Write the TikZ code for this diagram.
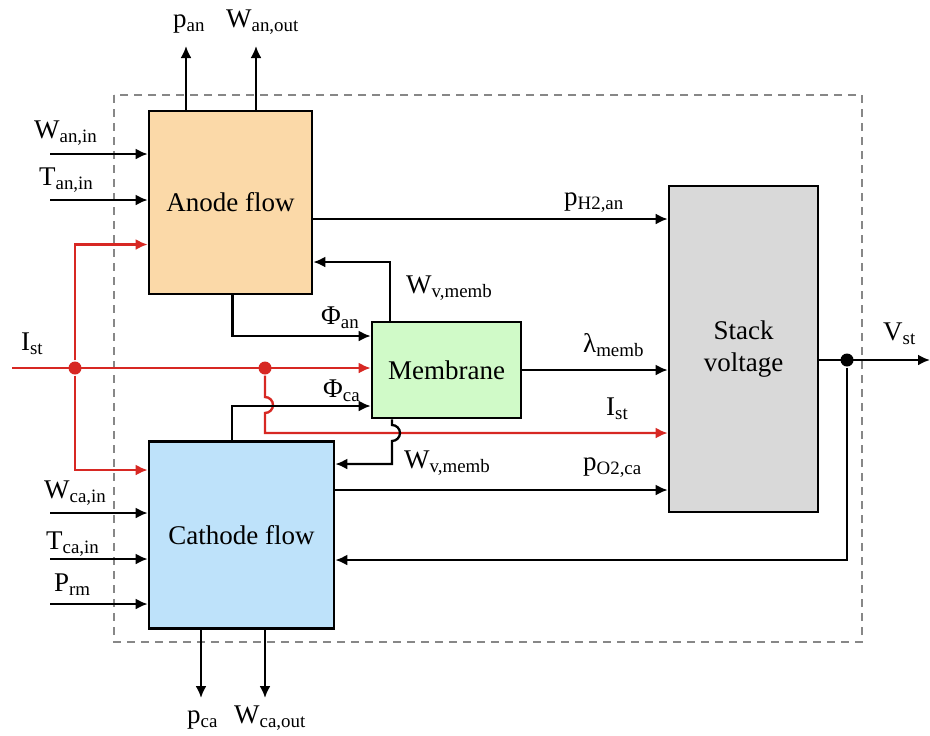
\documentclass[tikz,border=0pt]{standalone}
\usepackage{fontspec}
\setmainfont{Liberation Serif}
\usetikzlibrary{arrows.meta,calc}

\definecolor{anodefill}{RGB}{251,217,168}
\definecolor{cathfill}{RGB}{190,226,250}
\definecolor{membfill}{RGB}{208,250,200}
\definecolor{stackfill}{RGB}{217,217,217}
\definecolor{istred}{RGB}{215,40,35}
\definecolor{framegray}{RGB}{135,135,135}

\begin{document}
\begin{tikzpicture}[x=0.5pt, y=-0.5pt, >={Latex[length=6pt,width=5.5pt]}, line width=1.15pt,
  block/.style={draw, line width=1.3pt, inner sep=0pt, align=center, font=\fontsize{13.5}{16}\selectfont},
  lbl/.style={anchor=base west, inner sep=0pt, font=\fontsize{13.5}{16}\selectfont},
  cur/.style={istred, line width=1.2pt},
  jdot/.style={circle, fill, inner sep=0pt, minimum size=6.5pt}]
\useasboundingbox (0,0) rectangle (930,735);

% system boundary
\draw[framegray, line width=1pt, dash pattern=on 4pt off 3pt] (114,95) rectangle (862,642);

% blocks
\node[block, fill=anodefill, minimum width=81.5pt, minimum height=91.5pt] (anode) at (230.5,202.5) {Anode flow};
\node[block, fill=cathfill, minimum width=92.5pt, minimum height=93.5pt] (cathode) at (241.5,535) {Cathode flow};
\node[block, fill=membfill, minimum width=74.5pt, minimum height=48pt] (memb) at (446.5,370) {Membrane};
\node[block, fill=stackfill, minimum width=74.5pt, minimum height=163pt] (stack) at (743.5,349) {Stack\\voltage};

% anode in/out
\coordinate (panE) at (186,46);
\coordinate (wanoutE) at (256,46);
\draw[->] (anode.north -| panE) -- (panE);
\draw[->] (anode.north -| wanoutE) -- (wanoutE);
\node[lbl] (pan) at (172,27) {p\textsubscript{an}};
\node[lbl] (wanout) at (225,27) {W\textsubscript{an,out}};
\coordinate (waninS) at (50,154);
\coordinate (taninS) at (50,200);
\draw[->] (waninS) -- (waninS -| anode.west);
\draw[->] (taninS) -- (taninS -| anode.west);
\node[lbl] (wanin) at (33,138) {W\textsubscript{an,in}};
\node[lbl] (tanin) at (38,185) {T\textsubscript{an,in}};

% cathode in/out
\coordinate (wcainS) at (50,513);
\coordinate (tcainS) at (50,559);
\coordinate (prmS) at (50,604);
\draw[->] (wcainS) -- (wcainS -| cathode.west);
\draw[->] (tcainS) -- (tcainS -| cathode.west);
\draw[->] (prmS) -- (prmS -| cathode.west);
\node[lbl] (wcain) at (43,498) {W\textsubscript{ca,in}};
\node[lbl] (tcain) at (45,549) {T\textsubscript{ca,in}};
\node[lbl] (prm) at (53,591) {P\textsubscript{rm}};
\coordinate (pcaE) at (201,698);
\coordinate (wcaoutE) at (265,698);
\draw[->] (cathode.south -| pcaE) -- (pcaE);
\draw[->] (cathode.south -| wcaoutE) -- (wcaoutE);
\node[lbl] (pca) at (186,723) {p\textsubscript{ca}};
\node[lbl] (wcaout) at (233,723) {W\textsubscript{ca,out}};

% stack current
\coordinate (istS) at (12,368);
\node[jdot, istred] (j1) at (75,368) {};
\node[jdot, istred] (j2) at (265,368) {};
\draw[cur, ->] (istS) -- (memb.west |- istS);
\draw[cur, ->] (j1) |- ([yshift=-21pt]anode.west);
\draw[cur, ->] (j1) |- ([yshift=32.5pt]cathode.west);
\draw[cur, ->] (j2) -- (265,397) arc[start angle=90, end angle=-90, radius=4pt] -- (265,433) -- (stack.west |- 0,433);
\node[lbl] (istL) at (20,350) {I\textsubscript{st}};
\node[lbl] (istR) at (605,415) {I\textsubscript{st}};

% membrane water and flux
\draw[->] ([xshift=1pt]anode.south) |- ([yshift=17pt]memb.west);
\draw[->] ([xshift=-4.75pt]cathode.north) |- ([yshift=-18pt]memb.west);
\draw[->] ([xshift=-28.25pt]memb.north) |- ([yshift=-29.75pt]anode.east);
\draw[->] ([xshift=-27.25pt]memb.south) -- (392,425) arc[start angle=90, end angle=-90, radius=4pt] |- ([yshift=35.5pt]cathode.east);
\node[lbl] (phian) at (320,324) {Φ\textsubscript{an}};
\node[lbl] (phica) at (322,397) {Φ\textsubscript{ca}};
\node[lbl] (wvm1) at (405,293) {W\textsubscript{v,memb}};
\node[lbl] (wvm2) at (403,468) {W\textsubscript{v,memb}};

% into stack
\draw[->] (anode.east |- 0,219) -- (stack.west |- 0,219);
\draw[->] (memb.east) -- (memb.east -| stack.west);
\draw[->] (cathode.east |- 0,490) -- (stack.west |- 0,490);
\node[lbl] (ph2) at (563,205) {p\textsubscript{H2,an}};
\node[lbl] (lam) at (582,352) {λ\textsubscript{memb}};
\node[lbl] (po2) at (582,470) {p\textsubscript{O2,ca}};

% stack voltage out
\coordinate (vstE) at (930,360);
\node[jdot] (j3) at (847,360) {};
\draw[->] (stack.east |- vstE) -- (vstE);
\draw[->] (j3) |- (cathode.east |- 0,560);
\node[lbl] (vst) at (882,340) {V\textsubscript{st}};
\end{tikzpicture}
\end{document}
